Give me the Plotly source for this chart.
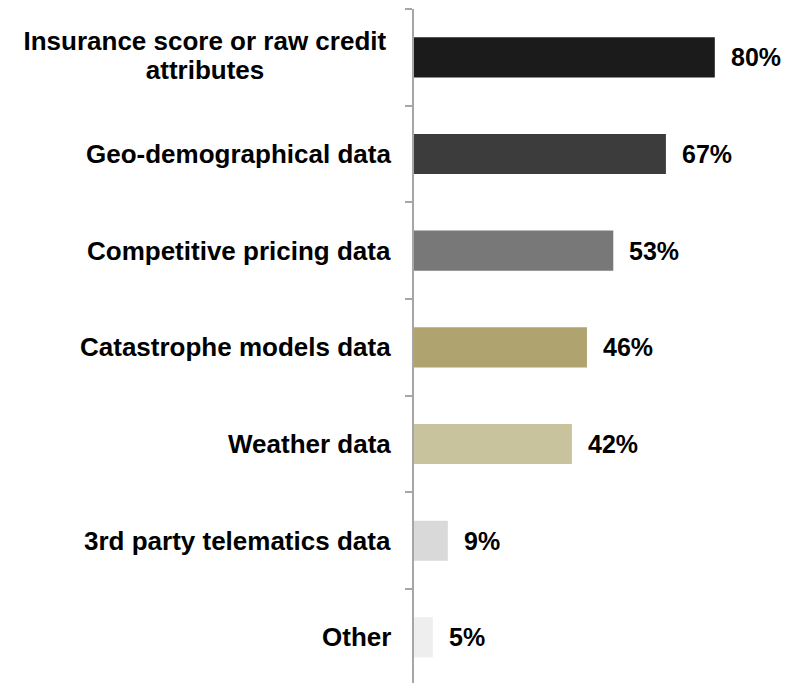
import plotly.graph_objects as go

categories = [
    "Insurance score or raw credit<br>attributes",
    "Geo-demographical data",
    "Competitive pricing data",
    "Catastrophe models data",
    "Weather data",
    "3rd party telematics data",
    "Other",
]
values = [80, 67, 53, 46, 42, 9, 5]
value_labels = ["80%", "67%", "53%", "46%", "42%", "9%", "5%"]
bar_colors = ["#1b1b1b", "#3c3c3c", "#787878", "#afa46f", "#c8c39c", "#d9d9d9", "#eeeeee"]

FONT = "Liberation Sans, Arial, sans-serif"
LABEL_SIZE = 26
VALUE_SIZE = 25

fig = go.Figure(
    go.Bar(
        x=values,
        y=categories,
        orientation="h",
        marker=dict(color=bar_colors, line=dict(width=0)),
        width=0.415,
        hoverinfo="skip",
    )
)

annotations = []
# category labels, right-aligned against the axis; multi-line labels centred line by line
for cat in categories:
    lines = cat.split("<br>")
    if len(lines) == 1:
        annotations.append(dict(
            xref="paper", yref="y", x=0, y=cat, text="<b>" + cat + "</b>",
            xanchor="right", yanchor="middle", xshift=-21, showarrow=False,
            font=dict(family=FONT, size=LABEL_SIZE, color="#000000"),
        ))
    else:
        gap = 29
        n = len(lines)
        for i, line in enumerate(lines):
            annotations.append(dict(
                xref="paper", yref="y", x=0, y=cat, text="<b>" + line + "</b>",
                xanchor="right", yanchor="middle", xshift=-21,
                yshift=((n - 1) / 2 - i) * gap + 2,
                width=372, align="center", showarrow=False,
                font=dict(family=FONT, size=LABEL_SIZE, color="#000000"),
            ))

# value labels to the right of each bar
for cat, val, lab in zip(categories, values, value_labels):
    annotations.append(dict(
        xref="x", yref="y", x=val, y=cat, text="<b>" + lab + "</b>",
        xanchor="left", yanchor="middle", xshift=14, showarrow=False,
        font=dict(family=FONT, size=VALUE_SIZE, color="#000000"),
    ))

fig.update_layout(
    width=794,
    height=683,
    margin=dict(l=414, r=4, t=9, b=0),
    paper_bgcolor="#ffffff",
    plot_bgcolor="#ffffff",
    showlegend=False,
    annotations=annotations,
    xaxis=dict(
        range=[0, 100], visible=False, fixedrange=True,
    ),
    yaxis=dict(
        type="category",
        categoryorder="array",
        categoryarray=categories,
        range=[6.472, -0.5],
        showticklabels=False,
        showgrid=False,
        zeroline=False,
        showline=True,
        linecolor="#a6a6a6",
        linewidth=2,
        ticks="outside",
        tickson="boundaries",
        ticklen=7,
        tickwidth=2,
        tickcolor="#a6a6a6",
    ),
)

fig.write_html("out.html")
